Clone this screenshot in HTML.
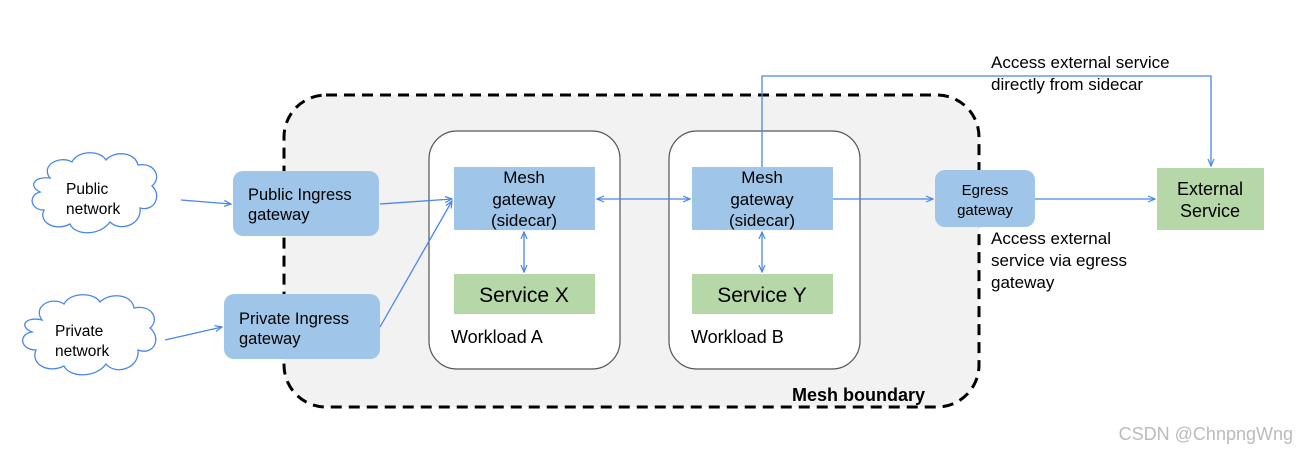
<!DOCTYPE html>
<html><head><style>
body{margin:0;background:#fff;}
svg{display:block;font-family:"Liberation Sans","DejaVu Sans",sans-serif;}
</style></head><body>
<svg width="1298" height="454" viewBox="0 0 1298 454" xmlns="http://www.w3.org/2000/svg">
<defs>
<marker id="a" markerWidth="8" markerHeight="8" refX="7" refY="4" orient="auto" markerUnits="userSpaceOnUse">
<path d="M0,1 L7,4 L0,7" fill="none" stroke="#4a86e8" stroke-width="1.2"/></marker>
<marker id="s" markerWidth="8" markerHeight="8" refX="1" refY="4" orient="auto" markerUnits="userSpaceOnUse">
<path d="M8,1 L1,4 L8,7" fill="none" stroke="#4a86e8" stroke-width="1.2"/></marker>
</defs>
<rect x="284" y="95" width="695" height="312" rx="42" fill="#f2f2f2" stroke="#000" stroke-width="3" stroke-dasharray="11,7"/>
<text x="925" y="401" font-size="18" font-weight="bold" text-anchor="end">Mesh boundary</text>
<rect x="429" y="131" width="191" height="238" rx="28" fill="#fff" stroke="#555" stroke-width="1.2"/>
<rect x="669" y="131" width="191" height="238" rx="28" fill="#fff" stroke="#555" stroke-width="1.2"/>
<text x="451" y="343" font-size="18">Workload A</text>
<text x="691" y="343" font-size="18">Workload B</text>
<rect x="454" y="167" width="141" height="63" fill="#9fc5e8"/>
<rect x="692" y="167" width="141" height="63" fill="#9fc5e8"/>
<g font-size="17" text-anchor="middle">
<text x="524" y="183">Mesh</text><text x="524" y="205">gateway</text><text x="524" y="226">(sidecar)</text>
<text x="762" y="183">Mesh</text><text x="762" y="205">gateway</text><text x="762" y="226">(sidecar)</text>
</g>
<rect x="454" y="274" width="141" height="40" fill="#b6d7a8"/>
<rect x="692" y="274" width="141" height="40" fill="#b6d7a8"/>
<text x="524" y="302" font-size="21" text-anchor="middle">Service X</text>
<text x="762" y="302" font-size="21" text-anchor="middle">Service Y</text>
<rect x="233" y="171" width="146" height="65" rx="10" fill="#9fc5e8"/>
<rect x="224" y="294" width="156" height="65" rx="10" fill="#9fc5e8"/>
<text x="248" y="200" font-size="16.5">Public Ingress</text><text x="248" y="220" font-size="16.5">gateway</text>
<text x="239" y="324" font-size="16.5">Private Ingress</text><text x="239" y="344" font-size="16.5">gateway</text>
<rect x="935" y="170" width="100" height="57" rx="10" fill="#9fc5e8"/>
<text x="985" y="195" font-size="15" text-anchor="middle">Egress</text><text x="985" y="215" font-size="15" text-anchor="middle">gateway</text>
<rect x="1157" y="168" width="107" height="62" fill="#b6d7a8"/>
<text x="1210" y="195" font-size="18" text-anchor="middle">External</text><text x="1210" y="217" font-size="18" text-anchor="middle">Service</text>
<g fill="#fff" stroke="#4a86e8" stroke-width="1.3">
<path d="M50,178 C40,165 60,155 72,162 C78,150 100,150 106,160 C115,150 135,152 138,165 C155,162 162,178 152,186 C162,195 155,212 140,208 C142,225 120,232 110,222 C100,236 75,236 70,224 C55,232 38,222 44,210 C30,210 28,195 40,192 C28,186 34,176 50,178 Z"/>
<path d="M42,320 C32,306 52,296 64,304 C70,292 94,292 100,302 C110,292 132,294 134,308 C152,304 160,320 150,328 C162,338 154,356 138,350 C140,368 116,376 106,364 C96,378 70,378 64,366 C48,374 30,364 36,350 C20,350 18,334 32,332 C18,326 26,316 42,320 Z"/>
</g>
<text x="66" y="194" font-size="15.5">Public</text><text x="66" y="214" font-size="15.5">network</text>
<text x="55" y="336" font-size="15.5">Private</text><text x="55" y="356" font-size="15.5">network</text>
<g stroke="#4a86e8" stroke-width="1.3" fill="none">
<line x1="181" y1="200" x2="231" y2="204" marker-end="url(#a)"/>
<line x1="165" y1="340" x2="222" y2="327" marker-end="url(#a)"/>
<line x1="380" y1="204" x2="452" y2="199" marker-end="url(#a)"/>
<line x1="380" y1="327" x2="452" y2="201" marker-end="url(#a)"/>
<line x1="597" y1="199" x2="690" y2="199" marker-start="url(#s)" marker-end="url(#a)"/>
<line x1="524" y1="232" x2="524" y2="272" marker-start="url(#s)" marker-end="url(#a)"/>
<line x1="762" y1="232" x2="762" y2="272" marker-start="url(#s)" marker-end="url(#a)"/>
<line x1="833" y1="199" x2="933" y2="199" marker-end="url(#a)"/>
<line x1="1035" y1="199" x2="1155" y2="199" marker-end="url(#a)"/>
<polyline points="762,167 762,76 1211,76 1211,166" marker-end="url(#a)"/>
</g>
<g font-size="17">
<text x="991" y="68">Access external service</text><text x="991" y="90">directly from sidecar</text>
<text x="991" y="244">Access external</text><text x="991" y="266">service via egress</text><text x="991" y="288">gateway</text>
</g>
<text x="1293" y="440" font-size="18" fill="#bbb" text-anchor="end">CSDN @ChnpngWng</text>
</svg>
</body></html>
